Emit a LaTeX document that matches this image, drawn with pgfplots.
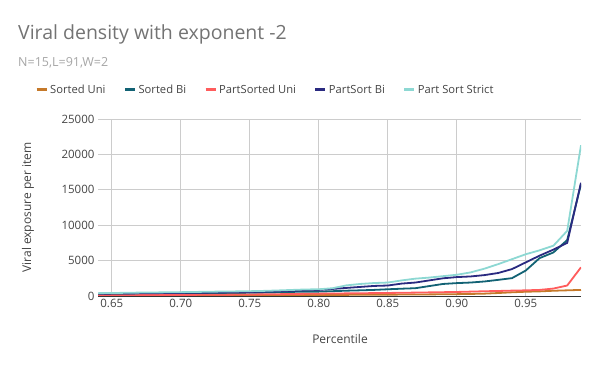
\documentclass[border=0pt]{standalone}
\usepackage{fontspec}
\setmainfont{Open Sans}
\usepackage{pgfplots}
\usepackage{pgfplotstable}
\pgfplotsset{compat=1.18}

\definecolor{sortuni}{HTML}{C5792A}
\definecolor{sortbi}{HTML}{126274}
\definecolor{partuni}{HTML}{FF5C5C}
\definecolor{partbi}{HTML}{2A2A80}
\definecolor{strict}{HTML}{8DD8D3}
\definecolor{gridgray}{HTML}{CCCCCC}
\definecolor{txtgray}{HTML}{444444}

% percentile, Sorted Uni, Sorted Bi, PartSorted Uni, PartSort Bi, Part Sort Strict
\pgfplotstableread{
p    su   sb    pu   pb    st
0.64 40   280   90   320   400
0.65 45   290   100  340   420
0.66 50   300   110  360   450
0.67 55   310   120  380   480
0.68 60   320   130  400   500
0.69 65   330   140  420   520
0.70 70   350   150  440   540
0.71 75   370   160  460   570
0.72 80   390   170  480   600
0.73 85   410   185  510   630
0.74 90   430   200  540   650
0.75 95   450   215  570   680
0.76 100  480   235  610   720
0.77 110  520   255  660   780
0.78 120  580   280  730   850
0.79 130  600   305  800   920
0.80 140  620   330  860   950
0.81 150  680   350  1000  1100
0.82 160  750   370  1140  1500
0.83 170  800   390  1280  1700
0.84 180  860   410  1420  1830
0.85 190  950   430  1480  1900
0.86 200  1030  455  1750  2200
0.87 210  1100  480  1900  2450
0.88 225  1400  510  2200  2600
0.89 240  1700  540  2500  2800
0.90 260  1820  570  2670  3000
0.91 290  1900  620  2760  3330
0.92 330  2050  670  2950  3860
0.93 420  2280  710  3250  4500
0.94 520  2520  760  3800  5200
0.95 600  3600  800  4750  5900
0.96 650  5350  860  5700  6450
0.97 740  6150  1050 6550  7100
0.98 800  7900  1480 7500  9200
0.99 860  15800 4050 16000 21300
}\datatable

\begin{document}
\begin{tikzpicture}
\useasboundingbox (0pt,0pt) rectangle (600pt,371pt);
\node[anchor=base west, text=black!55, font=\fontsize{19.5}{24}\selectfont, inner sep=0] at (18pt,331pt) {Viral density with exponent -2};
\node[anchor=base west, text=black!35, font=\fontsize{12.5}{15}\selectfont, inner sep=0] at (18pt,304pt) {N=15,L=91,W=2};
\begin{axis}[
    at={(98pt,75pt)}, anchor=south west,
    scale only axis, width=483pt, height=177pt,
    xmin=0.64, xmax=0.99, ymin=0, ymax=25000,
    xtick={0.65,0.70,...,0.95},
    ytick={0,5000,...,25000},
    xticklabel style={/pgf/number format/.cd, fixed, fixed zerofill, precision=2},
    yticklabel style={/pgf/number format/.cd, fixed, 1000 sep={}},
    scaled y ticks=false, scaled x ticks=false,
    /pgf/number format/assume math mode=true,
    tick label style={font=\fontsize{11.5}{13}\selectfont, text=txtgray},
    grid=major, major grid style={gridgray, line width=0.8pt},
    axis x line*=bottom, axis y line*=left,
    x axis line style={black!80, line width=0.9pt, -},
    y axis line style={draw=none},
    tick style={draw=none},
    xlabel={Percentile},
    ylabel={Viral exposure per item},
    every axis x label/.style={at={(242pt,-48pt)}, anchor=base,
        font=\fontsize{12}{14}\selectfont, text=txtgray},
    every axis y label/.style={at={(-70pt,88.5pt)}, rotate=90, anchor=center,
        font=\fontsize{12}{14}\selectfont, text=txtgray},
    legend columns=-1,
    legend style={at={(-63pt,206pt)}, anchor=west, draw=none, fill=none,
        font=\fontsize{11.2}{13}\selectfont, text=txtgray,
        /tikz/every even column/.append style={column sep=16pt},
        inner sep=0pt},
    legend image code/.code={\draw[line width=3pt] (0pt,0pt) -- (10pt,0pt);},
    every axis plot/.append style={line width=1.8pt, no marks, line join=round},
]
\addplot[sortuni] table[x=p, y=su] {\datatable};
\addlegendentry{Sorted Uni}
\addplot[sortbi] table[x=p, y=sb] {\datatable};
\addlegendentry{Sorted Bi}
\addplot[partuni] table[x=p, y=pu] {\datatable};
\addlegendentry{PartSorted Uni}
\addplot[partbi] table[x=p, y=pb] {\datatable};
\addlegendentry{PartSort Bi}
\addplot[strict] table[x=p, y=st] {\datatable};
\addlegendentry{Part Sort Strict}
\end{axis}
\end{tikzpicture}
\end{document}
